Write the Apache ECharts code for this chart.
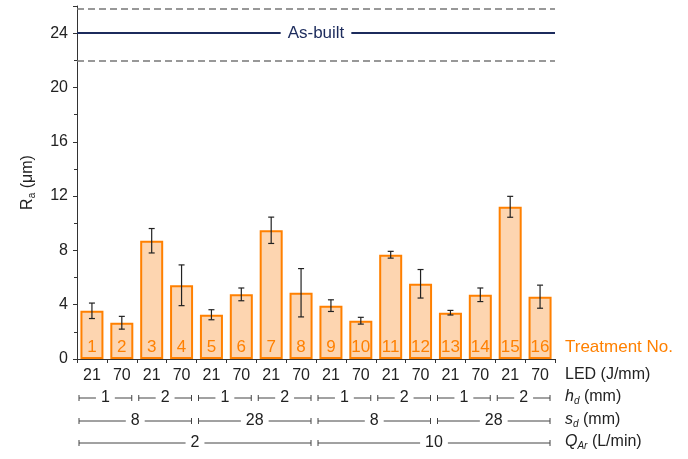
<!DOCTYPE html>
<html>
<head>
<meta charset="utf-8">
<script src="https://cdn.jsdelivr.net/npm/echarts@6/dist/echarts.min.js"></script>
<style>
  html, body { margin: 0; padding: 0; background: #fff; }
  #chart { width: 688px; height: 459px; }
</style>
</head>
<body>
<div id="chart"></div>
<script>
const treatments = ['1', '2', '3', '4', '5', '6', '7', '8', '9', '10', '11', '12', '13', '14', '15', '16']
const ledLabels = ['21', '70', '21', '70', '21', '70', '21', '70', '21', '70', '21', '70', '21', '70', '21', '70']
const raMean = [3.55, 2.67, 8.71, 5.43, 3.26, 4.76, 9.48, 4.88, 3.93, 2.82, 7.68, 5.54, 3.41, 4.73, 11.21, 4.59]
const raErr = [0.57, 0.47, 0.9, 1.5, 0.37, 0.47, 0.97, 1.78, 0.43, 0.25, 0.25, 1.05, 0.17, 0.5, 0.77, 0.85]
const asBuilt = 24
const asBuiltLow = 22
const asBuiltHigh = 25.8
// [first treatment index, last treatment index, label]
const hdGroups = [[0, 1, '1'], [2, 3, '2'], [4, 5, '1'], [6, 7, '2'], [8, 9, '1'], [10, 11, '2'], [12, 13, '1'], [14, 15, '2']]
const sdGroups = [[0, 3, '8'], [4, 7, '28'], [8, 11, '8'], [12, 15, '28']]
const qGroups = [[0, 7, '2'], [8, 15, '10']]

const font = 'Liberation Sans, Arial, sans-serif'
const orange = '#ff8000'
const navy = '#1c2b5c'

const chart = echarts.init(document.getElementById('chart'))

// rows of brackets below the axis, y offset in px from the x axis line
const bracketRows = [
  { groups: hdGroups, dy: 39 },
  { groups: sdGroups, dy: 62 },
  { groups: qGroups, dy: 84 }
]
const bracketData = []
bracketRows.forEach(row => {
  row.groups.forEach(g => bracketData.push([g[0], 0, g[1], g[2], row.dy]))
})

const renderBracket = (params, api) => {
  const band = api.size([1, 0])[0]
  const s = api.value(0)
  const e = api.value(2)
  const label = api.value(3)
  const dy = api.value(4)
  const base = api.coord([s, 0])
  const x0 = base[0] - band / 2 + 2
  const x1 = api.coord([e, 0])[0] + band / 2 - 5
  const y = base[1] + dy
  const style = { stroke: '#444', lineWidth: 1 }
  return {
    type: 'group',
    children: [
      { type: 'line', shape: { x1: x0, y1: y, x2: x1, y2: y }, style },
      { type: 'line', shape: { x1: x0, y1: y - 3, x2: x0, y2: y + 3 }, style },
      { type: 'line', shape: { x1: x1, y1: y - 3, x2: x1, y2: y + 3 }, style },
      {
        type: 'text',
        x: (x0 + x1) / 2,
        y: y,
        style: {
          text: label, fill: '#222', font: '16px ' + font,
          align: 'center', verticalAlign: 'middle',
          backgroundColor: '#fff', padding: [0, 5]
        }
      }
    ]
  }
}

const renderError = (params, api) => {
  const idx = api.value(0)
  const hi = api.coord([idx, api.value(1)])
  const lo = api.coord([idx, api.value(2)])
  const w = 3
  const style = { stroke: '#222', lineWidth: 1.2 }
  return {
    type: 'group',
    children: [
      { type: 'line', shape: { x1: hi[0], y1: hi[1], x2: lo[0], y2: lo[1] }, style },
      { type: 'line', shape: { x1: hi[0] - w, y1: hi[1], x2: hi[0] + w, y2: hi[1] }, style },
      { type: 'line', shape: { x1: lo[0] - w, y1: lo[1], x2: lo[0] + w, y2: lo[1] }, style }
    ]
  }
}

const rightLabelStyle = { fill: '#222', font: '16px ' + font }
const subRich = {
  i: { fontFamily: font, fontSize: 16, fontStyle: 'italic', fill: '#222' },
  sub: { fontFamily: font, fontSize: 10, fontStyle: 'italic', fill: '#222', padding: [8, 0, 0, 0] },
  n: { fontFamily: font, fontSize: 16, fill: '#222' }
}

chart.setOption({
  animation: false,
  textStyle: { fontFamily: font },
  grid: { left: 77, right: 133, top: 6, bottom: 100 },
  xAxis: {
    type: 'category',
    data: treatments,
    axisLine: { lineStyle: { color: '#333', width: 1 } },
    axisTick: { show: true, length: 4, lineStyle: { color: '#333' } },
    axisLabel: {
      color: '#222', fontSize: 16, margin: 9,
      formatter: (v, i) => ledLabels[i]
    }
  },
  yAxis: {
    type: 'value',
    min: 0,
    max: 26,
    interval: 4,
    name: 'R{sub|a} (μm)',
    nameLocation: 'middle',
    nameGap: 40,
    nameTextStyle: {
      color: '#222', fontSize: 16,
      rich: { sub: { fontSize: 10, color: '#222', padding: [8, 0, 0, 0] } }
    },
    splitLine: { show: false },
    axisLine: { show: true, lineStyle: { color: '#333', width: 1 } },
    axisTick: { show: true, length: 4, lineStyle: { color: '#333' } },
    minorTick: { show: true, splitNumber: 2, length: 3, lineStyle: { color: '#333' } },
    axisLabel: {
      color: '#222', fontSize: 16, margin: 9, showMaxLabel: false,
      formatter: v => (v % 4 === 0 ? v : '')
    }
  },
  series: [
    {
      type: 'bar',
      data: raMean,
      barWidth: '77%',
      itemStyle: { color: '#fdd5b0', borderColor: orange, borderWidth: 2 },
      label: {
        show: true,
        position: 'insideBottom',
        distance: 3,
        color: orange,
        fontSize: 17,
        formatter: p => treatments[p.dataIndex]
      },
      markLine: {
        silent: true,
        symbol: 'none',
        data: [
          {
            yAxis: asBuilt,
            lineStyle: { color: navy, width: 2, type: 'solid' },
            label: {
              show: true, position: 'middle', distance: 0, verticalAlign: 'middle',
              formatter: 'As-built',
              color: navy, fontSize: 17, backgroundColor: '#fff', padding: [2, 7]
            }
          },
          { yAxis: asBuiltHigh, lineStyle: { color: '#777', width: 1.5, type: [7, 4] }, label: { show: false } },
          { yAxis: asBuiltLow, lineStyle: { color: '#777', width: 1.5, type: [7, 4] }, label: { show: false } }
        ]
      }
    },
    {
      type: 'custom',
      silent: true,
      renderItem: renderError,
      encode: { x: 0, y: [1, 2] },
      data: raMean.map((m, i) => [i, m + raErr[i], m - raErr[i]]),
      z: 5
    },
    {
      type: 'custom',
      silent: true,
      renderItem: renderBracket,
      encode: { x: 0, y: 1 },
      data: bracketData
    }
  ],
  graphic: [
    { type: 'text', left: 565, top: 339, style: { text: 'Treatment No.', fill: orange, font: '17px ' + font } },
    { type: 'text', left: 565, top: 367, style: Object.assign({ text: 'LED (J/mm)' }, rightLabelStyle) },
    { type: 'text', left: 565, top: 389, style: { text: '{i|h}{sub|d}{n| (mm)}', rich: subRich } },
    { type: 'text', left: 565, top: 412, style: { text: '{i|s}{sub|d}{n| (mm)}', rich: subRich } },
    { type: 'text', left: 565, top: 434, style: { text: '{i|Q}{sub|Ar}{n| (L/min)}', rich: subRich } }
  ]
})
</script>
</body>
</html>
